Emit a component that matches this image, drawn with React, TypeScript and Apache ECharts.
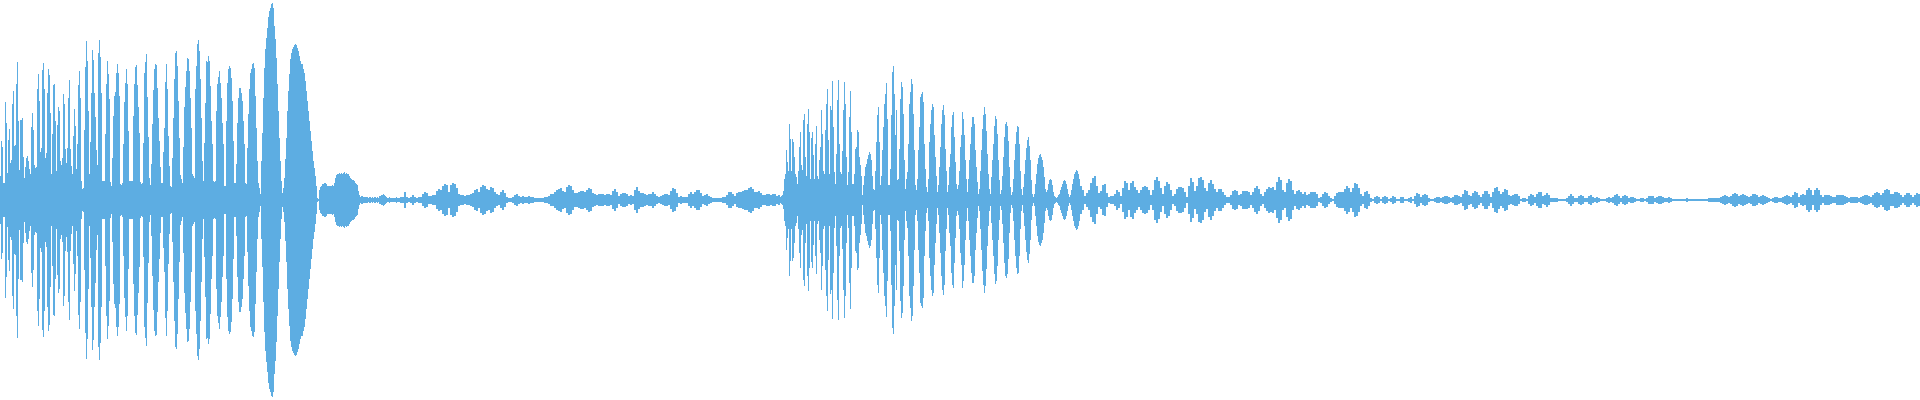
import { useEffect, useRef } from "react";
import * as echarts from "echarts";

// Waveform half-amplitude (pixels of the 400px-high view, symmetric about the centre line)
// Segment A: samples 0..399, one value per 1 time unit
const ampA: number[] = [
  24, 59, 53, 17, 17, 98, 77, 27, 60, 71, 37, 40, 96, 109, 54, 55, 116, 138, 79, 30,
  80, 80, 82, 43, 22, 33, 42, 44, 39, 31, 26, 73, 87, 70, 35, 32, 33, 111, 126, 99,
  48, 52, 130, 137, 111, 42, 47, 107, 131, 125, 87, 26, 66, 115, 116, 79, 29, 75, 93, 89,
  39, 35, 42, 106, 96, 51, 37, 52, 102, 120, 51, 34, 26, 64, 91, 74, 31, 56, 115, 129,
  102, 19, 11, 12, 70, 133, 159, 139, 89, 26, 58, 107, 150, 140, 107, 83, 50, 35, 147, 160,
  143, 107, 19, 19, 19, 66, 116, 139, 126, 101, 18, 14, 42, 84, 104, 108, 127, 136, 127, 104,
  16, 15, 17, 56, 98, 117, 131, 116, 69, 19, 19, 19, 19, 84, 116, 133, 135, 115, 93, 67,
  18, 16, 17, 57, 127, 138, 146, 103, 63, 22, 15, 36, 76, 110, 131, 136, 135, 112, 82, 59,
  33, 17, 17, 48, 72, 118, 136, 111, 64, 34, 14, 13, 42, 82, 121, 147, 149, 134, 99, 62,
  25, 21, 17, 53, 93, 113, 129, 142, 141, 129, 102, 72, 26, 24, 22, 111, 134, 156, 160, 149,
  121, 82, 39, 19, 57, 97, 139, 138, 144, 139, 114, 79, 56, 19, 18, 19, 89, 116, 123, 129,
  117, 102, 77, 56, 14, 14, 79, 117, 131, 134, 132, 122, 99, 59, 17, 17, 36, 77, 102, 112,
  112, 107, 99, 79, 56, 17, 16, 52, 86, 111, 127, 131, 136, 137, 132, 104, 72, 39, 17, 12,
  6, 39, 67, 102, 132, 151, 162, 172, 183, 189, 192, 196, 197, 192, 174, 161, 142, 116, 89, 62,
  39, 19, 7, 12, 22, 41, 62, 89, 109, 126, 141, 147, 151, 153, 155, 156, 155, 152, 149, 144,
  139, 136, 136, 131, 127, 119, 109, 99, 89, 79, 69, 59, 49, 39, 32, 24, 14, 2, 1, 10,
  13, 14, 16, 16, 17, 17, 16, 14, 14, 14, 14, 14, 15, 14, 17, 22, 25, 26, 26, 27,
  26, 27, 26, 27, 28, 26, 27, 26, 26, 24, 22, 21, 20, 20, 19, 17, 16, 15, 9, 5,
  3, 4, 4, 3, 3, 3, 3, 3, 2, 3, 3, 2, 3, 2, 3, 3, 2, 3, 2, 4,
  4, 5, 5, 6, 5, 4, 3, 2, 2, 3, 2, 2, 2, 2, 2, 2, 3, 2, 2, 2,
];

// Segment B: samples 400..779, one value per 2 time units
const ampB: number[] = [
  3, 3, 8, 3, 2, 3, 5, 3, 2, 3,
  3, 6, 8, 7, 4, 4, 5, 5, 9, 11,
  10, 14, 16, 15, 8, 15, 17, 16, 12, 6,
  5, 5, 4, 5, 5, 6, 7, 10, 11, 8,
  13, 15, 14, 11, 10, 13, 12, 8, 6, 5,
  8, 10, 7, 3, 2, 2, 3, 5, 6, 4,
  3, 4, 3, 3, 4, 3, 3, 2, 2, 2,
  2, 2, 3, 3, 4, 6, 6, 8, 10, 11,
  12, 9, 8, 13, 15, 14, 10, 7, 7, 8,
  9, 9, 8, 10, 12, 11, 7, 6, 5, 6,
  6, 6, 5, 6, 6, 5, 9, 11, 8, 4,
  6, 7, 7, 6, 4, 5, 4, 10, 13, 9,
  7, 7, 6, 5, 6, 6, 8, 6, 4, 3,
  4, 5, 6, 6, 5, 9, 12, 11, 7, 3,
  4, 3, 3, 3, 6, 8, 6, 8, 10, 10,
  7, 4, 5, 6, 4, 3, 2, 2, 2, 2,
  2, 3, 3, 5, 8, 8, 6, 4, 7, 8,
  8, 9, 10, 10, 12, 13, 11, 8, 8, 9,
  7, 5, 5, 6, 6, 5, 6, 6, 4, 5,
];

// Segment C: samples 780..1079, one value per 1 time unit
const ampC: number[] = [
  3, 4, 5, 9, 21, 26, 50, 38, 29, 76, 61, 29, 61, 58, 43, 26, 23, 16, 29, 53,
  68, 35, 30, 80, 86, 43, 24, 76, 91, 68, 21, 62, 68, 45, 21, 56, 74, 24, 21, 40,
  53, 90, 66, 29, 26, 70, 96, 111, 60, 26, 94, 90, 119, 73, 28, 16, 46, 100, 120, 56,
  28, 26, 49, 90, 118, 96, 43, 15, 28, 83, 109, 68, 16, 16, 26, 51, 53, 70, 68, 43,
  35, 24, 5, 15, 24, 33, 36, 41, 45, 48, 46, 40, 24, 11, 10, 29, 58, 85, 93, 58,
  15, 24, 50, 73, 96, 106, 117, 81, 15, 15, 31, 85, 128, 134, 106, 65, 90, 20, 21, 51,
  101, 118, 113, 86, 40, 11, 21, 28, 56, 96, 108, 121, 116, 86, 50, 15, 10, 21, 50, 73,
  103, 106, 108, 98, 56, 31, 13, 8, 21, 58, 76, 90, 96, 93, 65, 43, 24, 8, 15, 33,
  53, 76, 90, 95, 85, 51, 29, 8, 15, 33, 46, 73, 85, 88, 63, 38, 16, 11, 15, 29,
  53, 65, 88, 81, 65, 40, 21, 8, 21, 40, 56, 73, 83, 83, 76, 50, 33, 18, 6, 11,
  29, 50, 71, 85, 93, 86, 69, 46, 26, 11, 6, 23, 40, 56, 74, 84, 81, 66, 40, 20,
  6, 10, 24, 43, 63, 76, 78, 74, 59, 33, 13, 5, 8, 21, 40, 56, 68, 74, 73, 56,
  29, 11, 5, 13, 26, 40, 52, 60, 63, 54, 40, 20, 6, 3, 6, 16, 26, 36, 42, 45,
  46, 43, 40, 33, 23, 11, 8, 10, 16, 20, 21, 20, 15, 8, 4, 3, 2, 3, 5, 6,
  10, 13, 16, 19, 20, 19, 16, 11, 6, 3, 5, 10, 16, 21, 26, 28, 30, 29, 26, 21,
];

// Segment D: samples 1080..1919, one value per 2 time units
const ampD: number[] = [
  14, 10, 4, 7, 10, 17, 22, 24, 14, 7,
  9, 15, 16, 7, 3, 4, 4, 6, 10, 8,
  4, 12, 19, 17, 10, 17, 19, 13, 10, 7,
  10, 13, 14, 13, 10, 5, 10, 20, 23, 19,
  12, 6, 14, 18, 16, 10, 4, 6, 11, 13,
  13, 12, 8, 3, 14, 22, 18, 9, 14, 22,
  23, 20, 12, 9, 17, 20, 16, 11, 8, 11,
  11, 8, 5, 3, 3, 5, 9, 10, 9, 5,
  6, 9, 9, 9, 8, 5, 8, 12, 14, 11,
  6, 4, 8, 11, 13, 12, 13, 10, 18, 23,
  20, 10, 8, 17, 21, 19, 10, 6, 9, 10,
  8, 6, 8, 5, 6, 8, 8, 8, 6, 2,
  3, 6, 8, 7, 4, 2, 1, 4, 7, 8,
  8, 8, 11, 14, 12, 8, 12, 17, 16, 12,
  6, 4, 8, 9, 6, 2, 1, 3, 4, 3,
  1, 3, 4, 3, 1, 2, 4, 3, 1, 1,
  3, 3, 1, 1, 2, 3, 1, 4, 7, 6,
  3, 5, 6, 5, 2, 1, 1, 2, 3, 3,
  2, 3, 4, 4, 3, 2, 3, 5, 5, 4,
  3, 6, 10, 9, 5, 4, 7, 9, 8, 5,
  3, 6, 9, 9, 6, 3, 8, 12, 13, 9,
  6, 8, 11, 10, 5, 4, 5, 6, 6, 4,
  1, 2, 2, 1, 4, 6, 5, 3, 6, 8,
  8, 4, 5, 7, 5, 2, 2, 2, 2, 1,
  1, 1, 1, 2, 4, 6, 4, 2, 2, 4,
  5, 4, 2, 2, 4, 5, 3, 2, 3, 2,
  1, 1, 1, 2, 3, 2, 3, 5, 6, 4,
  2, 4, 5, 4, 2, 3, 3, 2, 1, 1,
  2, 2, 1, 2, 4, 4, 4, 2, 3, 4,
  4, 3, 2, 2, 3, 2, 1, 1, 1, 1,
  1, 1, 1, 2, 1, 1, 1, 1, 1, 1,
  1, 1, 1, 1, 2, 2, 2, 2, 2, 2,
  3, 4, 5, 4, 3, 4, 6, 7, 6, 4,
  5, 6, 5, 4, 3, 4, 6, 6, 5, 3,
  4, 5, 4, 3, 2, 1, 2, 3, 3, 2,
  2, 3, 4, 5, 4, 3, 5, 8, 7, 3,
  5, 6, 5, 10, 12, 10, 5, 10, 12, 10,
  5, 3, 5, 5, 5, 4, 3, 3, 5, 5,
  5, 5, 4, 3, 2, 3, 3, 3, 3, 2,
  3, 4, 5, 5, 4, 3, 5, 7, 8, 7,
  5, 7, 10, 11, 10, 6, 6, 8, 8, 7,
  5, 3, 5, 7, 7, 5, 3, 5, 7, 6,
];

const WAVE_COLOR = "#5DADE2";

export default function App() {
  const ref = useRef<HTMLDivElement>(null);

  useEffect(() => {
    if (!ref.current) return;
    const chart = echarts.init(ref.current, undefined, { renderer: "svg" });

    const segments = [
      { start: 0, step: 1, values: ampA },
      { start: 400, step: 2, values: ampB },
      { start: 780, step: 1, values: ampC },
      { start: 1080, step: 2, values: ampD },
    ];

    const series = segments.map((seg) => ({
      type: "custom",
      coordinateSystem: "cartesian2d",
      silent: true,
      clip: false,
      data: seg.values.map((a, i) => [seg.start + i * seg.step, a]),
      renderItem: (_params: any, api: any) => {
        const t = api.value(0);
        const a = api.value(1);
        const p0 = api.coord([t, a]);
        const p1 = api.coord([t + seg.step, -a]);
        return {
          type: "rect",
          shape: {
            x: p0[0],
            y: p0[1],
            width: p1[0] - p0[0],
            height: p1[1] - p0[1],
          },
          style: { fill: WAVE_COLOR },
        };
      },
    }));

    chart.setOption({
      animation: false,
      grid: { left: 0, right: 0, top: 0, bottom: 0, containLabel: false },
      xAxis: { type: "value", min: 0, max: 1920, show: false },
      yAxis: { type: "value", min: -200, max: 200, show: false },
      series,
    });

    return () => chart.dispose();
  }, []);

  return (
    <div
      ref={ref}
      style={{ position: "fixed", left: 0, top: 0, width: 1920, height: 400, background: "#fff" }}
    />
  );
}
